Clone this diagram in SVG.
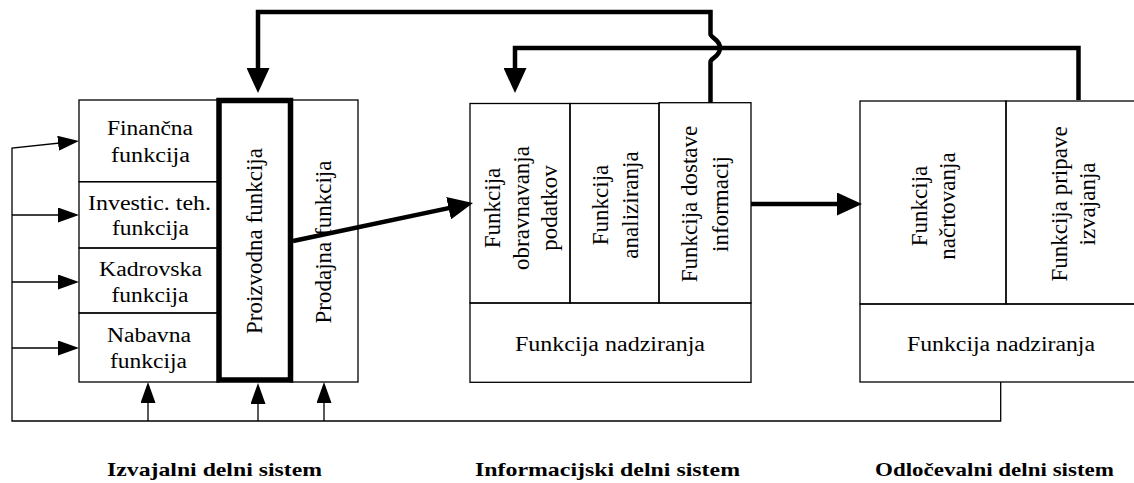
<svg xmlns="http://www.w3.org/2000/svg" width="1134" height="483" viewBox="0 0 1134 483">
<style>
.box{fill:none;stroke:#000;stroke-width:1.3}
.thickbox{fill:none;stroke:#000;stroke-width:5.5}
.t{font-family:"Liberation Serif","Times New Roman",serif;font-size:20px;fill:#000;text-anchor:middle}
.r{font-family:"Liberation Serif","Times New Roman",serif;font-size:23px;fill:#000;text-anchor:middle}
.b{font-family:"Liberation Serif","Times New Roman",serif;font-size:19px;font-weight:bold;fill:#000;text-anchor:middle}
.thin{fill:none;stroke:#000;stroke-width:1.3}
.thick{fill:none;stroke:#000;stroke-width:4.5;stroke-linejoin:miter}
</style>
<defs>
<marker id="ah" markerUnits="userSpaceOnUse" markerWidth="21" markerHeight="15" refX="16" refY="7.5" orient="auto">
<path d="M0,0 L21,7.5 L0,15 z" fill="#000"/>
</marker>
<marker id="ahT" markerUnits="userSpaceOnUse" markerWidth="25" markerHeight="23" refX="17" refY="11.5" orient="auto">
<path d="M0,0 L25,11.5 L0,23 z" fill="#000"/>
</marker>
</defs>
<rect width="1134" height="483" fill="#fff"/>

<g id="n-financna"><rect class="box" x="79" y="100" width="140" height="81.7"/>
<text class="t" x="150" y="135" textLength="86" lengthAdjust="spacingAndGlyphs">Finančna</text>
<text class="t" x="150.5" y="161.7" textLength="79" lengthAdjust="spacingAndGlyphs">funkcija</text></g>
<g id="n-investic"><rect class="box" x="79" y="181.7" width="140" height="66.3"/>
<text class="t" x="149.5" y="210" textLength="123" lengthAdjust="spacingAndGlyphs">Investic. teh.</text>
<text class="t" x="150.5" y="235" textLength="77" lengthAdjust="spacingAndGlyphs">funkcija</text></g>
<g id="n-kadrovska"><rect class="box" x="79" y="248" width="140" height="65"/>
<text class="t" x="150.5" y="275.7" textLength="103" lengthAdjust="spacingAndGlyphs">Kadrovska</text>
<text class="t" x="150" y="301.7" textLength="77" lengthAdjust="spacingAndGlyphs">funkcija</text></g>
<g id="n-nabavna"><rect class="box" x="79" y="313" width="140" height="69"/>
<text class="t" x="149" y="341.7" textLength="84" lengthAdjust="spacingAndGlyphs">Nabavna</text>
<text class="t" x="148.5" y="368" textLength="77" lengthAdjust="spacingAndGlyphs">funkcija</text></g>
<g id="n-prodajna"><rect class="box" x="290.5" y="100" width="67.5" height="282"/>
<text class="r" transform="translate(331,242) rotate(-90)" x="0" y="0">Prodajna funkcija</text></g>
<g id="n-proizvodna"><rect class="thickbox" x="219" y="100.5" width="71.5" height="279.5"/>
<text class="r" transform="translate(262,241) rotate(-90)" x="0" y="0">Proizvodna funkcija</text></g>

<g id="n-obravnavanje"><rect class="box" x="470" y="103.5" width="100" height="199.5"/>
<text class="r" transform="translate(500,208) rotate(-90)">Funkcija</text>
<text class="r" transform="translate(528.5,208) rotate(-90)">obravnavanja</text>
<text class="r" transform="translate(557,208) rotate(-90)">podatkov</text></g>
<g id="n-analiziranje"><rect class="box" x="570" y="103.5" width="89" height="199.5"/>
<text class="r" transform="translate(608,205) rotate(-90)">Funkcija</text>
<text class="r" transform="translate(638,205) rotate(-90)">analiziranja</text></g>
<g id="n-dostava"><rect class="box" x="659" y="102.7" width="92" height="200.3"/>
<text class="r" transform="translate(697,204) rotate(-90)">Funkcija dostave</text>
<text class="r" transform="translate(728,204) rotate(-90)">informacij</text></g>
<g id="n-nadziranje1"><rect class="box" x="470" y="303" width="281" height="79.3"/>
<text class="t" x="610" y="351" font-size="22" textLength="190" lengthAdjust="spacingAndGlyphs">Funkcija nadziranja</text></g>

<g id="n-nacrtovanje"><rect class="box" x="860" y="101" width="146" height="203"/>
<text class="r" transform="translate(927,206) rotate(-90)">Funkcija</text>
<text class="r" transform="translate(955,206) rotate(-90)">načrtovanja</text></g>
<g id="n-priprava"><rect class="box" x="1006" y="101" width="140" height="203"/>
<text class="r" transform="translate(1067,204) rotate(-90)">Funkcija pripave</text>
<text class="r" transform="translate(1095,204) rotate(-90)">izvajanja</text></g>
<g id="n-nadziranje2"><rect class="box" x="860" y="304" width="290" height="78"/>
<text class="t" x="1001" y="351" font-size="22" textLength="188" lengthAdjust="spacingAndGlyphs">Funkcija nadziranja</text></g>

<g id="connectors">
<path class="thick" d="M710.5 103 V62 C710.5 58 720 57 720 48 C720 39 710.5 38 710.5 34 V12 H258 V85" marker-end="url(#ahT)"/>
<path class="thick" d="M1078.5 100 V48 H515 V85" marker-end="url(#ahT)"/>
<path class="thick" d="M293 241 L465.2 204.65" marker-end="url(#ahT)"/>
<path class="thick" d="M751 204 H854" marker-end="url(#ahT)"/>
<path class="thin" d="M1000.7 382 V421 H12 V148 L74 141.5" marker-end="url(#ah)"/>
<path class="thin" d="M12 215 H74" marker-end="url(#ah)"/>
<path class="thin" d="M12 282 H74" marker-end="url(#ah)"/>
<path class="thin" d="M12 348 H74" marker-end="url(#ah)"/>
<path class="thin" d="M148 421 V387" marker-end="url(#ah)"/>
<path class="thin" d="M258 421 V388" marker-end="url(#ah)"/>
<path class="thin" d="M324 421 V387" marker-end="url(#ah)"/>
</g>

<g id="labels">
<text class="b" x="214.5" y="476" textLength="215" lengthAdjust="spacingAndGlyphs">Izvajalni delni sistem</text>
<text class="b" x="607.5" y="476" textLength="265" lengthAdjust="spacingAndGlyphs">Informacijski delni sistem</text>
<text class="b" x="994.5" y="476" textLength="239" lengthAdjust="spacingAndGlyphs">Odločevalni delni sistem</text>
</g>
</svg>
